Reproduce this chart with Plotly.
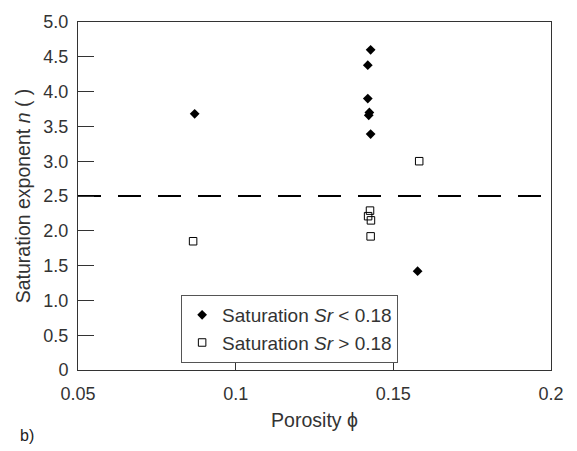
import plotly.graph_objects as go

# Data
porosity_low = [0.0870, 0.1428, 0.1419, 0.1419, 0.1424, 0.1422, 0.1428, 0.1577]
n_low = [3.68, 4.60, 4.38, 3.90, 3.70, 3.66, 3.39, 1.42]
porosity_high = [0.0865, 0.1426, 0.1420, 0.1429, 0.1428, 0.1582]
n_high = [1.85, 2.29, 2.21, 2.15, 1.92, 3.00]
threshold_x = [0.05, 0.2]
threshold_n = [2.5, 2.5]

x_ticks = [0.05, 0.1, 0.15, 0.2]
x_ticktext = ["0.05", "0.1", "0.15", "0.2"]
y_ticks = [0, 0.5, 1.0, 1.5, 2.0, 2.5, 3.0, 3.5, 4.0, 4.5, 5.0]
y_ticktext = ["0", "0.5", "1.0", "1.5", "2.0", "2.5", "3.0", "3.5", "4.0", "4.5", "5.0"]

FONT = "Liberation Sans, Arial, Helvetica, sans-serif"
TXT = "#333333"
AX = "#333333"

fig = go.Figure()
fig.add_trace(go.Scatter(
    x=threshold_x, y=threshold_n, mode="lines", showlegend=False,
    line=dict(color="black", width=2.2, dash="23px,17px"), hoverinfo="skip"))
fig.add_trace(go.Scatter(
    x=porosity_low, y=n_low, mode="markers",
    name="Saturation <i>Sr</i> &lt; 0.18",
    marker=dict(symbol="diamond", size=7.5, color="black", line=dict(width=0))))
fig.add_trace(go.Scatter(
    x=porosity_high, y=n_high, mode="markers",
    name="Saturation <i>Sr</i> &gt; 0.18",
    marker=dict(symbol="square-open", size=7.5, color="black", line=dict(width=1, color="black"))))

fig.update_layout(
    width=577, height=451,
    margin=dict(l=78, r=26, t=15, b=81),
    paper_bgcolor="white", plot_bgcolor="white",
    font=dict(family=FONT, size=18, color=TXT),
    legend=dict(
        x=0.218, y=0.118, xanchor="left", yanchor="middle",
        bgcolor="white", bordercolor="#555555", borderwidth=1,
        font=dict(family=FONT, size=19, color=TXT),
        tracegroupgap=0, itemwidth=30),
    annotations=[dict(text="b)", xref="paper", yref="paper", x=-0.127, y=-0.189,
                      xanchor="left", yanchor="middle", showarrow=False,
                      font=dict(family=FONT, size=16, color="#222222"))],
)
fig.update_xaxes(
    range=[0.05, 0.2], tickvals=x_ticks, ticktext=x_ticktext,
    ticks="inside", ticklen=11, tickwidth=1, tickcolor=AX,
    showline=True, linecolor=AX, linewidth=1, mirror=True,
    showgrid=False, zeroline=False, ticklabelstandoff=7,
    title=dict(text="Porosity \u03d5", standoff=10, font=dict(size=19.5)),
    tickfont=dict(size=18))
fig.update_yaxes(
    range=[0, 5], tickvals=y_ticks, ticktext=y_ticktext,
    ticks="inside", ticklen=16, tickwidth=1, tickcolor=AX,
    showline=True, linecolor=AX, linewidth=1, mirror=True,
    showgrid=False, zeroline=False, ticklabelstandoff=5, ticklabeloverflow="allow",
    title=dict(text="Saturation exponent <i>n</i> ( )", standoff=7, font=dict(size=19.5)),
    tickfont=dict(size=18))

fig.write_html("out.html", config={"displayModeBar": False},
               post_script="document.body.style.margin='0';")
